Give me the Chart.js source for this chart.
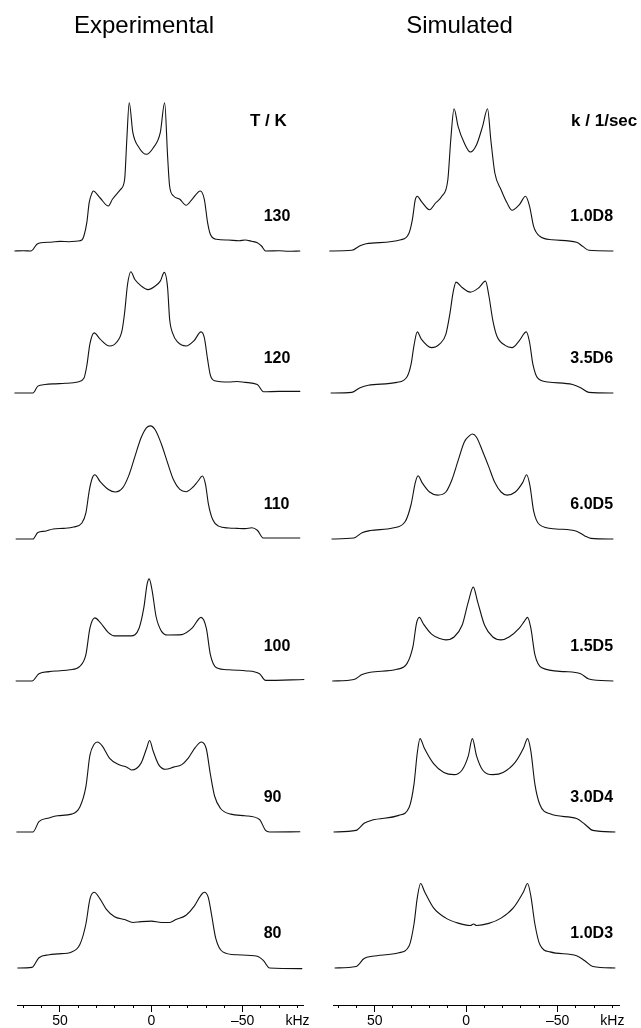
<!DOCTYPE html>
<html>
<head>
<meta charset="utf-8">
<script src="https://cdn.jsdelivr.net/npm/chart.js@4.4.1/dist/chart.umd.min.js"></script>
<style>
	html, body { margin: 0; padding: 0; background: #fff; }
	.wrap { position: relative; width: 641px; height: 1028px; }
	.col { position: absolute; top: 0; }
	#exp { left: 0; }
	#sim { left: 320px; }
</style>
</head>
<body>
<div class="wrap">
	<div class="col" id="exp"><canvas id="expChart" width="320" height="1028"></canvas></div>
	<div class="col" id="sim"><canvas id="simChart" width="321" height="1028"></canvas></div>
</div>
<script>
// [kHz, intensity], top row first
const exp130 = [[74.9,0],[70,0.3],[65.9,0],[62.6,6.7],[60.4,8.3],[55,8.8],[50,9.6],[45,9.3],[40.3,10],[38.0,11],[36.9,15],[35.3,28.3],[34.0,48.3],[32.4,58.3],[31.8,60],[28.0,53],[23.5,45],[21.3,51.7],[16.8,61.7],[14.6,71.7],[13.4,111.7],[12.1,148.3],[10.1,118.3],[6.7,103.3],[2.7,96.7],[-1.1,103.3],[-4.9,118.3],[-7.3,148.3],[-8.9,95],[-10.0,65],[-12.2,55],[-15.6,51.7],[-19.0,45.7],[-22.3,51.7],[-26.8,60],[-29.0,51.7],[-30.8,28.3],[-32.3,16.7],[-35.7,11.7],[-42,11],[-48,10.3],[-51.3,11],[-55,9.7],[-58.0,8.3],[-60.3,5],[-62.5,0],[-70,0.3],[-75,-0.3],[-81.5,0]];
const exp120 = [[74.9,0],[64.8,0],[62.1,7.3],[58.1,9],[53.7,9.7],[47,10.3],[40.3,11.7],[36.9,15.7],[35.3,29],[33.6,52.3],[31.3,64],[28.0,57.3],[22.8,50],[19.0,54],[16.1,65.7],[14.6,85.7],[13.0,115.7],[11.2,129],[9.0,120.7],[5.6,114],[1.8,110],[-1.8,113.3],[-4.9,119],[-7.1,128.3],[-8.9,112.3],[-10.0,79],[-11.6,64],[-14.5,54],[-19.0,50],[-23.4,55.7],[-27.2,65],[-29.0,59],[-30.8,35.7],[-32.3,19],[-34.6,13],[-42.4,11.7],[-47,12.3],[-51.3,11.3],[-58.0,9],[-61.4,1.3],[-70,1.7],[-81.5,1.7]];
const exp110 = [[74.2,0],[64.8,0],[62.1,7],[58.1,8.3],[53.7,10.7],[48,11.3],[42.5,12.7],[38.0,17],[35.8,27.7],[34.0,51],[32.4,64.3],[30.9,68.3],[28.0,61],[23.5,52.7],[19.7,50],[15.7,54.3],[12.3,67.7],[9.0,87.7],[5.6,107.7],[2.7,118.3],[0.5,120.3],[-2.2,116],[-5.5,101],[-8.9,81],[-12.2,62.7],[-15.6,52.7],[-19.0,50.3],[-22.3,54.3],[-25.6,61.7],[-27.9,67],[-29.7,57.7],[-31.2,37.7],[-33.5,21],[-36.8,13.7],[-42.4,11.7],[-47,11.3],[-51.3,11],[-55,12],[-58.0,9.3],[-61.4,1],[-81.5,1]];
const exp100 = [[74.2,0],[65.3,0],[61.5,8.3],[55.9,10.7],[50,11.7],[44.7,12.7],[39.1,16.7],[35.8,30],[33.6,60],[30.9,71.7],[28.0,66.7],[23.5,55],[20.1,51.3],[11.2,51.3],[6.7,60],[4.1,83.3],[2.3,110],[1.2,116],[-0.4,103.3],[-2.6,73.3],[-5.5,56.7],[-8.9,52.3],[-16.7,52.7],[-22.3,60],[-27.2,72.3],[-30.1,60],[-32.3,30],[-35.7,15],[-42.4,12.7],[-47,12.3],[-51.3,11.7],[-59.2,8.3],[-62.5,0.7],[-83.7,1.7]];
const exp90 = [[73.8,0],[64.8,0],[61.5,11],[55.9,15],[51.4,17.3],[43.6,19],[39.1,26.7],[35.8,48.3],[33.6,81.7],[31.3,93.3],[29.5,95.7],[26.9,91.7],[22.8,78.3],[17.9,71.7],[13.4,69],[10.8,66],[5.6,73.3],[2.7,88.3],[0.9,97.3],[-0.9,86.7],[-4.0,71.7],[-7.8,66.7],[-12.2,69],[-16.7,71.7],[-20.1,78.3],[-24.1,90],[-27.4,95.7],[-30.1,88.3],[-32.3,61.7],[-34.6,38.3],[-37.9,25],[-43.5,19],[-51.3,17.3],[-59.2,13.3],[-62.5,1.7],[-64.7,0],[-81.5,0.3]];
const exp80 = [[73.3,0],[65.3,0.7],[61.5,11.7],[55.9,15],[51.4,16],[43.6,18.3],[39.1,26.7],[35.8,50],[33.6,78.3],[31.3,86],[28.0,78.3],[24.6,66.7],[20.1,58.3],[14.6,55],[10.1,51.7],[5.6,52.7],[0.0,53.3],[-5.5,51.7],[-10.0,51.7],[-13.4,55],[-19.0,60],[-23.4,70],[-26.8,81.7],[-29.0,86],[-31.2,80],[-33.0,60],[-35.3,33.3],[-39.1,18.3],[-46.9,15],[-58.0,13.3],[-61.4,8.3],[-64.7,0],[-82.6,-0.7]];

const sim1p0D8 = [[74.8,0],[62.5,0.7],[58.0,5.3],[54.7,7.3],[35.7,11.3],[31.2,18],[29.4,31.3],[27.8,51.3],[26.7,54.7],[24.5,49.7],[20.0,41.3],[16.7,48],[13.3,54.7],[10.0,71.3],[8.4,111.3],[6.6,142.3],[4.4,124.7],[1.0,108],[-2.3,99],[-5.7,106.3],[-9.0,124.7],[-11.7,142.3],[-13.5,111.3],[-15.7,78],[-19.1,61.3],[-22.4,48],[-25.1,40.7],[-29.1,46.3],[-32.5,54.7],[-34.7,44.7],[-36.9,24.7],[-40.3,14.7],[-47.0,11.3],[-60.4,8.7],[-63.7,4.7],[-67.1,0.7],[-80.5,0]];
const sim3p5D6 = [[74.1,0],[62.5,0.7],[58.0,5.7],[53.5,8.3],[37.9,11.3],[32.3,17.3],[30.1,30.7],[28.5,50.7],[26.7,65],[24.5,57.3],[18.9,48.3],[14.4,52.3],[11.1,62.3],[8.9,84],[7.1,107.3],[5.5,118],[2.2,112.3],[-2.3,107.3],[-6.8,111.7],[-10.6,119],[-12.4,104],[-14.6,77.3],[-16.8,60.7],[-21.3,50.7],[-25.1,48.3],[-29.1,55.7],[-32.9,65],[-34.7,54],[-36.5,30.7],[-39.2,15.7],[-44.8,11.7],[-58.2,9],[-62.6,5.7],[-67.1,0.7],[-80.5,0]];
const sim6p0D5 = [[73.6,0],[61.4,1],[56.9,6.7],[52.4,9],[40.1,11.7],[33.4,18.3],[30.1,36.7],[27.8,60],[26.3,67.3],[24.1,60],[20.0,50],[15.6,46.7],[11.1,50],[7.7,63.3],[4.4,83.3],[1.0,103.3],[-1.9,110],[-3.4,111.7],[-5.7,108.3],[-9.0,93.3],[-12.4,76.7],[-15.7,60],[-19.1,50],[-22.4,46.7],[-26.9,50],[-30.9,60],[-33.1,68.3],[-34.9,56.7],[-36.9,30],[-40.3,15],[-49.2,10.7],[-60.4,8.3],[-64.9,3.3],[-68.2,0.7],[-80.5,0]];
const sim1p5D5 = [[73.2,0],[61.4,1.7],[56.9,7.3],[52.4,10],[37.9,13.3],[32.3,20],[29.0,40],[27.2,65],[25.6,72.3],[23.4,65],[18.9,53.3],[14.4,48.3],[11.1,46.7],[6.6,50],[2.2,63.3],[-1.2,90],[-3.9,106.7],[-6.3,90],[-10.1,63.3],[-14.6,50],[-19.1,46.7],[-23.5,50],[-29.1,60],[-32.0,68.3],[-33.6,72.3],[-35.4,60],[-37.6,30],[-41.4,15],[-53.7,10.7],[-62.6,8.3],[-67.1,2.3],[-80.5,0]];
const sim3p0D4 = [[72.5,0],[60.2,1.7],[55.8,9.3],[51.3,12.7],[36.8,17.7],[31.2,26],[28.5,51],[26.7,84.3],[25.2,99.3],[22.9,89.3],[17.8,72.7],[12.2,63.3],[6.6,61],[2.2,66],[-1.2,81],[-3.4,99.3],[-5.7,81],[-9.0,66],[-14.6,61],[-20.2,63.3],[-26.9,74.3],[-31.4,89.3],[-33.6,99.3],[-35.4,86],[-37.6,51],[-40.3,29.3],[-45.9,19.3],[-60.4,14.3],[-64.9,8.3],[-69.3,1.7],[-81.6,0]];
const sim1p0D3 = [[71.9,0],[60.2,1.7],[55.8,10.7],[51.3,13.3],[36.8,17.3],[31.2,25],[28.5,50],[26.7,80],[24.9,96],[22.7,86.7],[17.8,68.3],[11.1,56.7],[4.4,51],[-2.3,48.3],[-4.1,50],[-5.7,48.3],[-12.4,50.7],[-19.1,56.7],[-25.8,68.3],[-31.4,86.7],[-33.6,96],[-35.4,81.7],[-37.6,50],[-40.3,26.7],[-45.9,18.3],[-60.4,14],[-64.9,8.3],[-69.3,1.7],[-81.6,0]];

const expSpectra = [exp130, exp120, exp110, exp100, exp90, exp80];
const simSpectra = [sim1p0D8, sim3p5D6, sim6p0D5, sim1p5D5, sim3p0D4, sim1p0D3];
const temperatures = ["130", "120", "110", "100", "90", "80"];
const rates = ["1.0D8", "3.5D6", "6.0D5", "1.5D5", "3.0D4", "1.0D3"];

const minorTicks = [70, 60, 50, 40, 30, 20, 10, 0, -10, -20, -30, -40, -50, -60, -70, -80];
const majorTicks = [50, 0, -50];
const unitTick = -80;

const font = '"Liberation Sans", Arial, Helvetica, sans-serif';
const axisY = 1005;
// baseline of each trace (px) and its vertical gain
const rowBase = [251, 393, 539, 681, 832, 968];
const rowGain = [1, 0.94, 0.94, 0.88, 0.94, 0.88];

const fmtTick = v => (v === unitTick ? "kHz" : v < 0 ? "\u2013" + Math.abs(v) : String(v));

const labelPlugin = cfg => ({
	id: "rowLabels",
	afterDraw(chart) {
		const { ctx, scales } = chart;
		const x = scales.x;
		ctx.save();
		ctx.fillStyle = "#000";
		ctx.font = `24px ${font}`;
		ctx.textAlign = "center";
		ctx.textBaseline = "alphabetic";
		ctx.fillText(cfg.title, x.getPixelForValue(cfg.titleAt), 33);

		ctx.textAlign = "left";
		ctx.textBaseline = "middle";
		ctx.font = `bold 17px ${font}`;
		ctx.fillText(cfg.header, x.getPixelForValue(cfg.headerAt), scales.y0.getPixelForValue(0) - 130);
		ctx.font = `bold 16px ${font}`;
		cfg.labels.forEach((lbl, i) =>
			ctx.fillText(lbl, x.getPixelForValue(cfg.labelAt), scales["y" + i].getPixelForValue(0) - 34)
		);
		ctx.restore();
	},
});

const makeChart = (canvas, spectra, cfg) => {
	const scales = {
		x: {
			type: "linear",
			position: "bottom",
			reverse: true,
			min: cfg.min,
			max: cfg.max,
			weight: 0,
			afterBuildTicks: ax => { ax.ticks = minorTicks.map(v => ({ value: v })); },
			afterFit: ax => { ax.height = 0; },
			border: { display: false },
			grid: { drawOnChartArea: false, tickLength: 3, tickColor: "#000", tickWidth: 1 },
			ticks: { display: false },
		},
		xMajor: {
			type: "linear",
			position: "bottom",
			reverse: true,
			min: cfg.min,
			max: cfg.max,
			weight: 1,
			afterBuildTicks: ax => { ax.ticks = [...majorTicks, unitTick].map(v => ({ value: v })); },
			afterFit: ax => { ax.height = 1028 - axisY; },
			border: { display: true, color: "#000", width: 1 },
			grid: {
				drawOnChartArea: false,
				tickLength: 7,
				tickWidth: 1,
				tickColor: ctx => (ctx.tick && ctx.tick.value === unitTick ? "rgba(0,0,0,0)" : "#000"),
			},
			ticks: {
				color: "#000",
				font: { family: font, size: 14 },
				padding: 1,
				maxRotation: 0,
				autoSkip: false,
				callback: v => fmtTick(v),
			},
		},
	};
	spectra.forEach((s, i) => {
		scales["y" + i] = {
			display: false,
			min: (rowBase[i] - axisY) / rowGain[i],
			max: rowBase[i] / rowGain[i],
		};
	});

	new Chart(canvas, {
		type: "line",
		plugins: [labelPlugin(cfg)],
		data: {
			datasets: spectra.map((pts, i) => ({
				data: pts.map(([x, y]) => ({ x, y })),
				yAxisID: "y" + i,
				borderColor: "#111",
				borderWidth: 1.1,
				pointRadius: 0,
				fill: false,
				cubicInterpolationMode: "monotone",
				clip: false,
			})),
		},
		options: {
			responsive: false,
			animation: false,
			events: [],
			layout: { padding: { left: cfg.padLeft, right: cfg.padRight, top: 0, bottom: 0 } },
			plugins: { legend: { display: false }, tooltip: { enabled: false } },
			scales,
		},
	});
};

makeChart(document.getElementById("expChart"), expSpectra, {
	min: -83, max: 73.5, padLeft: 17, padRight: 17,
	title: "Experimental", titleAt: 4,
	header: "T / K", headerAt: -54,
	labels: temperatures, labelAt: -61.5,
});

makeChart(document.getElementById("simChart"), simSpectra, {
	min: -83.6, max: 72.8, padLeft: 13, padRight: 22,
	title: "Simulated", titleAt: 3.6,
	header: "k / 1/sec", headerAt: -57.4,
	labels: rates, labelAt: -57,
});
</script>
</body>
</html>
